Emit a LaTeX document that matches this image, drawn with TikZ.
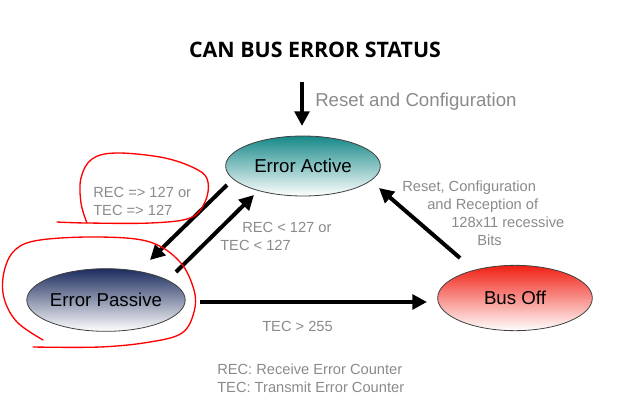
\documentclass[tikz,border=0pt]{standalone}
\usepackage{fontspec}
\setmainfont{Liberation Sans}
\newfontfamily\titlefont{Open Sans}
\usetikzlibrary{shapes.geometric, arrows.meta}
\definecolor{activetop}{RGB}{22,136,136}
\definecolor{passivetop}{RGB}{28,44,94}
\definecolor{busofftop}{RGB}{240,32,20}
\definecolor{notegray}{RGB}{138,138,138}
\tikzstyle{state} = [ellipse, draw=black!75, line width=0.6pt, minimum width=116pt, minimum height=45pt, inner sep=0pt, bottom color=white, font=\fontsize{14}{16}\selectfont]
\tikzstyle{arrow} = [line width=3pt, -{Triangle[length=11pt,width=11pt]}]
\tikzstyle{note} = [text=notegray, font=\fontsize{11}{13.5}\selectfont, align=left, anchor=west, inner sep=0pt]
\tikzstyle{scribble} = [red, line width=1pt, line cap=round, line join=round]

\begin{document}
\begin{tikzpicture}[x=0.75pt, y=-0.75pt]
    \useasboundingbox (0,0) rectangle (619,408);

        \node (title) at (315,50) {\titlefont\bfseries\fontsize{16}{19}\selectfont CAN BUS ERROR STATUS};

        \node (active) [state, top color=activetop] at (303,166) {Error Active};
        \node (passive) [state, top color=passivetop, minimum height=47pt] at (106,300) {Error Passive};
        \node (busoff) [state, top color=busofftop, minimum height=49pt] at (515,298) {Bus Off};

        \coordinate (reset) at (302,82);
        \draw [arrow] (reset) -- ([shift={(-1,-40)}]active.center);
        \draw [arrow] ([shift={(-76,19)}]active.center) -- ([shift={(44,-40)}]passive.center);
        \draw [arrow] ([shift={(70,-28)}]passive.center) -- ([shift={(-49,29)}]active.center);
        \draw [arrow] ([shift={(94,2)}]passive.center) -- ([shift={(-88,4)}]busoff.center);
        \draw [arrow] ([shift={(-55,-40)}]busoff.center) -- ([shift={(76,22)}]active.center);

        \node (resetnote) [note, font=\fontsize{14}{16}\selectfont] at (315,102) {Reset and Configuration};
        \node (tonote) [note] at (93,201) {REC => 127 or\\TEC => 127};
        \node (backnote) [note] at (220,236) {\hspace*{16.5pt}REC < 127 or\\TEC < 127};
        \node (recovernote) [note] at (402,213) {Reset, Configuration\\\hspace*{18.75pt}and Reception of\\\hspace*{36.75pt}128x11 recessive\\\hspace*{56.25pt}Bits};
        \node (offnote) [note] at (262,326) {TEC > 255};
        \node (legend) [note] at (217,378) {REC: Receive Error Counter\\TEC: Transmit Error Counter};

        % hand-drawn marks
        \draw [scribble] plot [smooth, tension=0.6] coordinates {(57,222) (87,223) (150,223) (190,218) (205,202) (208,182) (198,170) (165,158) (117,153) (92,159) (81,178) (81,203) (87,223)};
        \draw [scribble] plot [smooth, tension=0.6] coordinates {(43,340) (17,322) (4,298) (4,272) (15,250) (40,240) (100,237) (150,242) (180,262) (194,290) (194,312) (182,333) (150,342) (100,347) (33,347)};

    \end{tikzpicture}
\end{document}
